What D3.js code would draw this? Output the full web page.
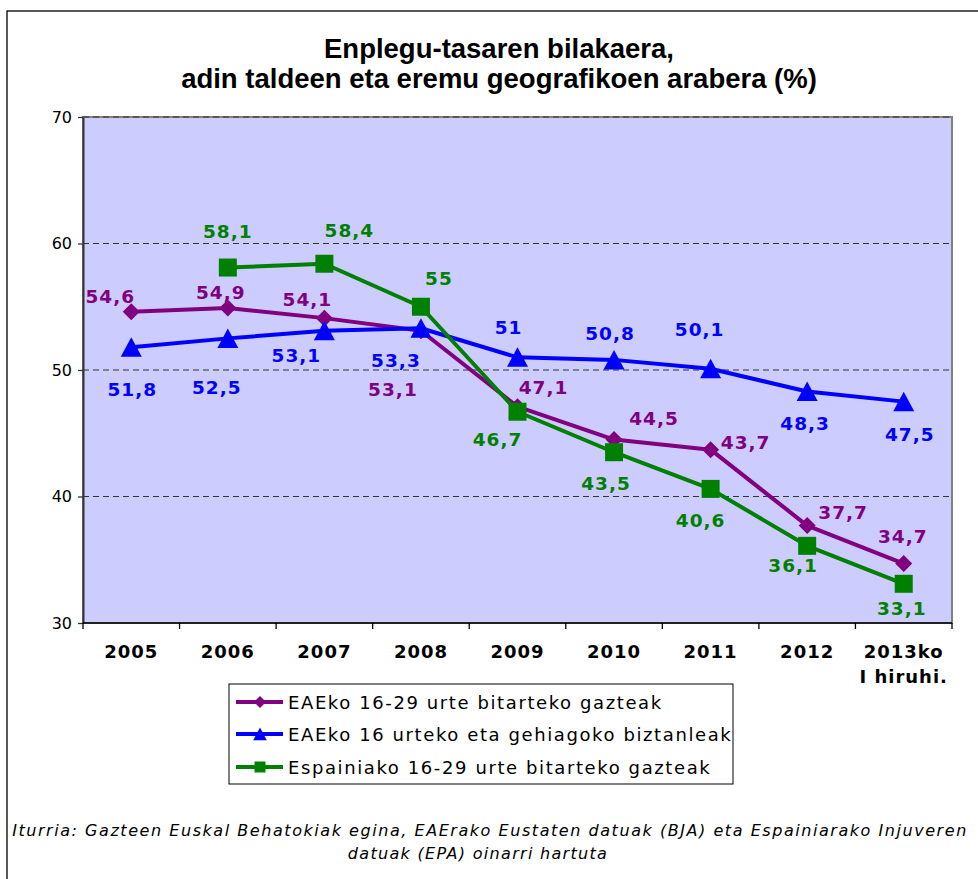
<!DOCTYPE html>
<html>
<head>
<meta charset="utf-8">
<script src="https://cdn.jsdelivr.net/npm/d3@7"></script>
<style>
  body { margin: 0; background: #fff; }
  svg { display: block; }
</style>
</head>
<body>
<div id="chart"></div>
<script>
// ---- data ----
const categories = ["2005", "2006", "2007", "2008", "2009", "2010", "2011", "2012", "2013"];
const tickLabels = [["2005"], ["2006"], ["2007"], ["2008"], ["2009"], ["2010"], ["2011"], ["2012"], ["2013ko", "I hiruhi."]];
const yTicks = [30, 40, 50, 60, 70];
const seriesNames = [
  "EAEko 16-29 urte bitarteko gazteak",
  "EAEko 16 urteko eta gehiagoko biztanleak",
  "Espainiako 16-29 urte bitarteko gazteak"
];
const eaeGazteak = [54.6, 54.9, 54.1, 53.1, 47.1, 44.5, 43.7, 37.7, 34.7];
const eaeBiztanleak = [51.8, 52.5, 53.1, 53.3, 51, 50.8, 50.1, 48.3, 47.5];
const espainiaGazteak = [null, 58.1, 58.4, 55, 46.7, 43.5, 40.6, 36.1, 33.1];

// label nudges from each point (dx, dy), as they sit in the original
const gazteakLabelPos = [[-21, -15], [-7, -16], [-17, -19], [-28, 59], [26, -19], [40, -21], [35, -7], [36, -13], [-1, -27]];
const biztanleakLabelPos = [[1, 42], [-11, 49], [-28, 25], [-25, 32], [-9, -30], [-4, -26], [-11, -39], [-2, 32], [6, 33]];
const espainiaLabelPos = [null, [0, -36], [25, -33], [18, -28], [-20, 28], [-8, 31], [-10, 32], [-14, 20], [-2, 25]];

const colors = ["#800080", "#0000ff", "#008000"];
const shapes = ["diamond", "triangle", "square"];

const width = 978, height = 879;
const plot = { left: 83, right: 952, top: 117, bottom: 623 };

const svg = d3.select("#chart").append("svg")
  .attr("width", width)
  .attr("height", height);

// outer chart frame (cut on the right and bottom in the original)
svg.append("rect")
  .attr("x", 7).attr("y", 11)
  .attr("width", 1000).attr("height", 900)
  .attr("fill", "#fff")
  .attr("stroke", "#000")
  .attr("stroke-width", 1.3);

// title
const title = svg.append("text")
  .attr("text-anchor", "middle")
  .attr("font-family", "Arial, 'Liberation Sans', sans-serif")
  .attr("font-weight", "bold")
  .attr("font-size", 27.5)
  .attr("fill", "#000");
title.append("tspan").attr("x", 499).attr("y", 58).text("Enplegu-tasaren bilakaera,");
title.append("tspan").attr("x", 499).attr("y", 88).text("adin taldeen eta eremu geografikoen arabera (%)");

// scales
const x = d3.scaleBand().domain(categories).range([plot.left, plot.right]).paddingInner(0).paddingOuter(0);
const cx = c => x(c) + x.bandwidth() / 2;
const y = d3.scaleLinear().domain([30, 70]).range([plot.bottom, plot.top]);

// plot background
svg.append("rect")
  .attr("x", plot.left).attr("y", plot.top)
  .attr("width", plot.right - plot.left).attr("height", plot.bottom - plot.top)
  .attr("fill", "#ccccff")
  .attr("stroke", "#808080")
  .attr("stroke-width", 2);

// gridlines
svg.append("g").selectAll("line")
  .data(yTicks.filter(t => t > 30))
  .join("line")
  .attr("x1", plot.left).attr("x2", plot.right)
  .attr("y1", d => y(d)).attr("y2", d => y(d))
  .attr("stroke", "#333")
  .attr("stroke-width", 1)
  .attr("stroke-dasharray", "6,4");

// y axis
const yAxis = svg.append("g")
  .attr("transform", `translate(${plot.left},0)`)
  .call(d3.axisLeft(y).tickValues(yTicks).tickSize(5).tickSizeOuter(0).tickPadding(6));
yAxis.select(".domain").attr("stroke", "#333").attr("stroke-width", 2);
yAxis.selectAll(".tick line").attr("stroke", "#333").attr("stroke-width", 1.3);
yAxis.selectAll(".tick text")
  .attr("font-family", "Verdana, 'DejaVu Sans', sans-serif")
  .attr("font-size", 16)
  .attr("fill", "#000");

// x axis: line, ticks at category boundaries, labels
svg.append("line")
  .attr("x1", plot.left).attr("x2", plot.right)
  .attr("y1", plot.bottom).attr("y2", plot.bottom)
  .attr("stroke", "#000").attr("stroke-width", 1.5);
svg.append("g").selectAll("line")
  .data(categories.map(c => x(c)).concat([plot.right]))
  .join("line")
  .attr("x1", d => d).attr("x2", d => d)
  .attr("y1", plot.bottom).attr("y2", plot.bottom + 6)
  .attr("stroke", "#000").attr("stroke-width", 1.3);
const xLabels = svg.append("g")
  .attr("font-family", "Verdana, 'DejaVu Sans', sans-serif")
  .attr("font-weight", "bold")
  .attr("font-size", 18)
  .attr("letter-spacing", 1)
  .attr("text-anchor", "middle")
  .selectAll("text")
  .data(categories)
  .join("text")
  .attr("x", d => cx(d))
  .attr("y", 651);
xLabels.each(function(d, i) {
  d3.select(this).selectAll("tspan")
    .data(tickLabels[i])
    .join("tspan")
    .attr("x", cx(d))
    .attr("y", (t, j) => 651 + j * 25)
    .attr("dominant-baseline", "central")
    .text(t => t);
});

// markers
function markerPath(shape, s) {
  const p = d3.path();
  if (shape === "diamond") {
    p.moveTo(0, -s); p.lineTo(s, 0); p.lineTo(0, s); p.lineTo(-s, 0);
  } else if (shape === "triangle") {
    p.moveTo(0, -s * 1.0); p.lineTo(s * 1.05, s * 0.95); p.lineTo(-s * 1.05, s * 0.95);
  } else {
    p.rect(-s, -s, 2 * s, 2 * s);
  }
  p.closePath();
  return p.toString();
}
const markerSize = { diamond: 8.5, triangle: 10, square: 9 };

const series = [
  { name: seriesNames[0], values: eaeGazteak, labelPos: gazteakLabelPos },
  { name: seriesNames[1], values: eaeBiztanleak, labelPos: biztanleakLabelPos },
  { name: seriesNames[2], values: espainiaGazteak, labelPos: espainiaLabelPos }
];

const line = d3.line()
  .defined(d => d.v !== null)
  .x(d => cx(d.c))
  .y(d => y(d.v));

series.forEach((s, k) => {
  const pts = categories.map((c, i) => ({ c, v: s.values[i], pos: s.labelPos[i] }));
  const g = svg.append("g");
  g.append("path")
    .datum(pts)
    .attr("d", line)
    .attr("fill", "none")
    .attr("stroke", colors[k])
    .attr("stroke-width", 4)
    .attr("stroke-linejoin", "round");
  g.selectAll(".mk")
    .data(pts.filter(d => d.v !== null))
    .join("path")
    .attr("class", "mk")
    .attr("transform", d => `translate(${cx(d.c)},${y(d.v)})`)
    .attr("d", markerPath(shapes[k], markerSize[shapes[k]]))
    .attr("fill", colors[k]);
});

// data labels (drawn after all lines so they stay readable)
series.forEach((s, k) => {
  const pts = categories.map((c, i) => ({ c, v: s.values[i], pos: s.labelPos[i] }));
  svg.append("g")
    .attr("font-family", "Verdana, 'DejaVu Sans', sans-serif")
    .attr("font-weight", "bold")
    .attr("font-size", 18.5)
    .attr("letter-spacing", 1)
    .attr("fill", colors[k])
    .attr("text-anchor", "middle")
    .selectAll("text")
    .data(pts.filter(d => d.v !== null))
    .join("text")
    .attr("x", d => cx(d.c) + d.pos[0])
    .attr("y", d => y(d.v) + d.pos[1])
    .attr("dominant-baseline", "central")
    .text(d => String(d.v).replace(".", ","));
});

// legend
const legend = svg.append("g");
legend.append("rect")
  .attr("x", 229).attr("y", 684)
  .attr("width", 504).attr("height", 100)
  .attr("fill", "#fff")
  .attr("stroke", "#000")
  .attr("stroke-width", 1);
const legendRows = [702, 734, 767];
const legendMarker = { diamond: 6, triangle: 6.5, square: 5.5 };
series.forEach((s, k) => {
  const ly = legendRows[k];
  legend.append("line")
    .attr("x1", 236).attr("x2", 283)
    .attr("y1", ly).attr("y2", ly)
    .attr("stroke", colors[k]).attr("stroke-width", 4);
  legend.append("path")
    .attr("transform", `translate(260,${ly})`)
    .attr("d", markerPath(shapes[k], legendMarker[shapes[k]]))
    .attr("fill", colors[k]);
  legend.append("text")
    .attr("x", 288).attr("y", ly)
    .attr("dominant-baseline", "central")
    .attr("font-family", "Verdana, 'DejaVu Sans', sans-serif")
    .attr("font-size", 18)
    .attr("letter-spacing", 1.6)
    .attr("fill", "#000")
    .text(s.name);
});

// source note
const note = svg.append("text")
  .attr("text-anchor", "middle")
  .attr("font-family", "Verdana, 'DejaVu Sans', sans-serif")
  .attr("font-style", "italic")
  .attr("font-size", 16)
  .attr("fill", "#000");
note.append("tspan").attr("x", 490).attr("y", 836).attr("letter-spacing", 1.55)
  .text("Iturria: Gazteen Euskal Behatokiak egina, EAErako Eustaten datuak (BJA) eta Espainiarako Injuveren");
note.append("tspan").attr("x", 478).attr("y", 859).attr("letter-spacing", 1.3)
  .text("datuak (EPA) oinarri hartuta");
</script>
</body>
</html>
